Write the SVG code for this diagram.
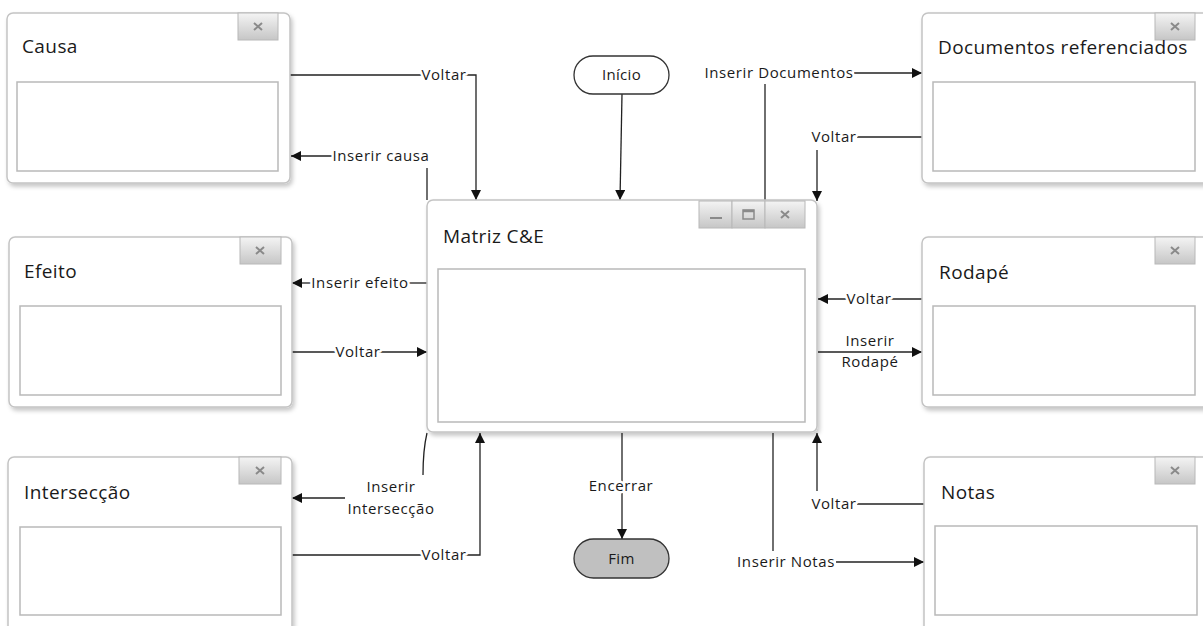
<svg xmlns="http://www.w3.org/2000/svg" width="1203" height="626" viewBox="0 0 1203 626">
<style>
.win{fill:#fff;stroke:#c4c4c4;stroke-width:1.5;filter:url(#sh)}
.inner{fill:#fff;stroke:#b9b9b9;stroke-width:1.5}
.btn{fill:url(#bg);stroke:#b8b8b8;stroke-width:1}
.ic{stroke:#8a8a8a;stroke-width:2;fill:none}
.title{font-family:"Open Sans","DejaVu Sans",sans-serif;font-size:19px;letter-spacing:0.4px;fill:#1a1a1a}
.lbl{font-family:"Open Sans","DejaVu Sans",sans-serif;font-size:15px;letter-spacing:0.6px;fill:#1a1a1a;stroke:#fff;stroke-width:5;paint-order:stroke;stroke-linejoin:round}
.t{font-family:"Open Sans","DejaVu Sans",sans-serif;font-size:15px;letter-spacing:0.3px;fill:#1a1a1a}
.c{fill:none;stroke:#222;stroke-width:1.3}
.ca{fill:none;stroke:#222;stroke-width:1.3;marker-end:url(#ah)}
.term{stroke:#333;stroke-width:1.3}
</style>
<defs>
<filter id="sh" x="-10%" y="-10%" width="125%" height="125%">
<feDropShadow dx="2" dy="3" stdDeviation="2" flood-color="#000" flood-opacity="0.22"/>
</filter>
<linearGradient id="bg" x1="0" y1="0" x2="0" y2="1">
<stop offset="0" stop-color="#f4f4f4"/>
<stop offset="1" stop-color="#c6c6c6"/>
</linearGradient>
<marker id="ah" viewBox="0 0 10 10" refX="10" refY="5" markerWidth="14" markerHeight="10" markerUnits="userSpaceOnUse" orient="auto">
<path d="M0,0 L10,5 L0,10 z" fill="#111"/>
</marker>
</defs>

<g id="connectors">
<!-- Causa Voltar -->
<path class="ca" d="M290,75 H476 V200"/>
<text class="lbl" x="444" y="80" text-anchor="middle">Voltar</text>
<!-- Inserir causa -->
<path class="c" d="M427,200 V168"/>
<path class="ca" d="M333,156 H291"/>
<text class="lbl" x="381" y="161" text-anchor="middle">Inserir causa</text>
<!-- Inicio -->
<path class="ca" d="M622,94 L620,200"/>
<!-- Inserir Documentos -->
<path class="c" d="M765,200 V84"/>
<path class="ca" d="M854,73 H922"/>
<text class="lbl" x="779" y="78" text-anchor="middle">Inserir Documentos</text>
<!-- Documentos Voltar -->
<path class="c" d="M922,137 H857"/>
<path class="ca" d="M817,150 V201"/>
<text class="lbl" x="834" y="142" text-anchor="middle">Voltar</text>
<!-- Inserir efeito -->
<path class="c" d="M427,283 H409"/>
<path class="ca" d="M311,283 H292"/>
<text class="lbl" x="360" y="288" text-anchor="middle">Inserir efeito</text>
<!-- Efeito Voltar -->
<path class="ca" d="M292,352 H427"/>
<text class="lbl" x="358" y="357" text-anchor="middle">Voltar</text>
<!-- Rodape Voltar -->
<path class="ca" d="M922,299 H818"/>
<text class="lbl" x="869" y="304" text-anchor="middle">Voltar</text>
<!-- Inserir Rodape -->
<path class="ca" d="M818,352 H922"/>
<text class="lbl" x="870" y="346" text-anchor="middle">Inserir</text>
<text class="lbl" x="870" y="367" text-anchor="middle">Rodapé</text>
<!-- Inserir Interseccao -->
<path class="c" d="M427,433 Q423,450 423,475"/>
<path class="ca" d="M345,498 H292"/>
<text class="lbl" x="391" y="492" text-anchor="middle">Inserir</text>
<text class="lbl" x="391" y="514" text-anchor="middle">Intersecção</text>
<!-- Interseccao Voltar -->
<path class="ca" d="M292,555 H480 V433"/>
<text class="lbl" x="444" y="560" text-anchor="middle">Voltar</text>
<!-- Encerrar -->
<path class="ca" d="M622,433 V539"/>
<text class="lbl" x="621" y="491" text-anchor="middle">Encerrar</text>
<!-- Inserir Notas -->
<path class="c" d="M773,433 V551"/>
<path class="ca" d="M836,562 H924"/>
<text class="lbl" x="786" y="567" text-anchor="middle">Inserir Notas</text>
<!-- Notas Voltar -->
<path class="c" d="M924,504 H857"/>
<path class="ca" d="M817,491 V433"/>
<text class="lbl" x="834" y="509" text-anchor="middle">Voltar</text>
</g>

<g id="inicio">
<rect class="term" x="574" y="56" width="95" height="38" rx="19" fill="#fff"/>
<text class="t" x="621.5" y="80" text-anchor="middle">Início</text>
</g>

<g id="fim">
<rect class="term" x="574" y="539" width="95" height="39" rx="19.5" fill="#c0c0c0"/>
<text class="t" x="621.5" y="564" text-anchor="middle">Fim</text>
</g>

<g id="causa">
<rect class="win" x="7" y="13" width="283" height="170" rx="6"/>
<rect class="btn" x="238" y="13" width="40" height="27"/>
<path class="ic" d="M254,23 l8,7 M262,23 l-8,7"/>
<text class="title" x="22" y="53">Causa</text>
<rect class="inner" x="17" y="82" width="261" height="89"/>
</g>

<g id="efeito">
<rect class="win" x="9" y="237" width="283" height="170" rx="6"/>
<rect class="btn" x="240" y="237" width="41" height="27"/>
<path class="ic" d="M256,247 l8,7 M264,247 l-8,7"/>
<text class="title" x="24" y="278">Efeito</text>
<rect class="inner" x="20" y="306" width="261" height="89"/>
</g>

<g id="interseccao">
<rect class="win" x="8" y="457" width="284" height="175" rx="6"/>
<rect class="btn" x="239" y="457" width="42" height="27"/>
<path class="ic" d="M256,467 l8,7 M264,467 l-8,7"/>
<text class="title" x="24" y="499">Intersecção</text>
<rect class="inner" x="20" y="527" width="261" height="88"/>
</g>

<g id="matriz">
<rect class="win" x="427" y="200" width="390" height="232" rx="6"/>
<rect class="btn" x="699" y="201" width="33" height="27"/>
<rect class="btn" x="732" y="201" width="33" height="27"/>
<rect class="btn" x="765" y="201" width="40" height="27"/>
<path class="ic" d="M710,218 h12"/>
<rect x="743" y="210" width="11" height="9" fill="none" stroke="#8a8a8a" stroke-width="1.5"/>
<path d="M743,211 h11" stroke="#8a8a8a" stroke-width="2.5"/>
<path class="ic" d="M781,211 l8,7 M789,211 l-8,7"/>
<text class="title" x="443" y="243">Matriz C&amp;E</text>
<rect class="inner" x="438" y="269" width="367" height="153"/>
</g>

<g id="documentos">
<rect class="win" x="922" y="13" width="290" height="170" rx="6"/>
<rect class="btn" x="1155" y="13" width="40" height="27"/>
<path class="ic" d="M1171,23 l8,7 M1179,23 l-8,7"/>
<text class="title" x="938" y="54">Documentos referenciados</text>
<rect class="inner" x="933" y="82" width="262" height="89"/>
</g>

<g id="rodape">
<rect class="win" x="922" y="237" width="290" height="170" rx="6"/>
<rect class="btn" x="1155" y="237" width="40" height="27"/>
<path class="ic" d="M1171,247 l8,7 M1179,247 l-8,7"/>
<text class="title" x="939" y="279">Rodapé</text>
<rect class="inner" x="933" y="306" width="262" height="89"/>
</g>

<g id="notas">
<rect class="win" x="924" y="457" width="290" height="175" rx="6"/>
<rect class="btn" x="1155" y="457" width="40" height="27"/>
<path class="ic" d="M1171,467 l8,7 M1179,467 l-8,7"/>
<text class="title" x="941" y="499">Notas</text>
<rect class="inner" x="935" y="526" width="262" height="89"/>
</g>
</svg>
